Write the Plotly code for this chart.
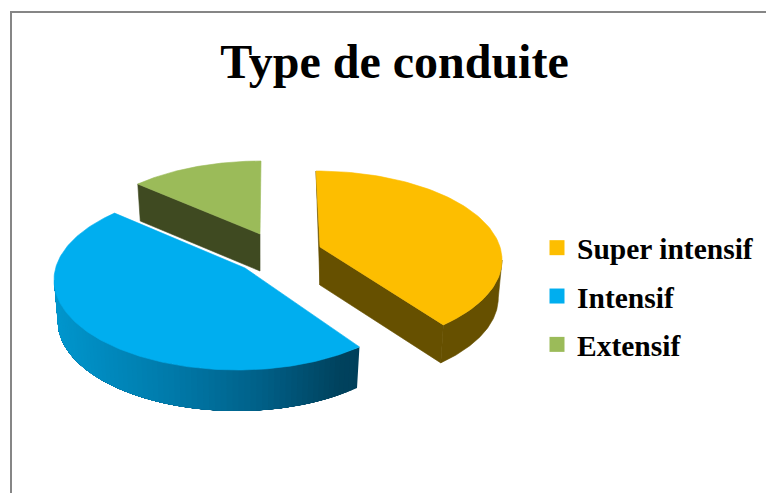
import numpy as np
import plotly.graph_objects as go

categories = ["Super intensif", "Intensif", "Extensif"]
values = [38, 50, 12]

TOP = ["#FDBE00", "#00AEEF", "#9BBB59"]
WALL = ["#665000", None, "#3F4A21"]

# per-slice projection in screen pixels: apex x, apex y, ellipse offsets, radii, depth, perspective twist
GEOM = [
    dict(ax=320, ay=247, ox=-4, oy=13, rx=186, ry=89, d=38, rot=0),
    dict(ax=245, ay=268, ox=-8, oy=12, rx=183, ry=90, d=41, rot=1.2),
    dict(ax=260, ay=234, ox=1, oy=12, rx=180, ry=85, d=37, rot=0),
]
SHRINK = 0.98


def point(g, deg, bottom=False):
    t = np.radians(deg)
    cx = g["ax"] + g["ox"]
    x = g["rx"] * np.cos(t)
    y = g["ay"] + g["oy"] + g["ry"] * np.sin(t)
    if bottom:
        return cx + SHRINK * x, y + g["d"]
    return cx + x, y


def apex(g, bottom=False):
    if bottom:
        cx = g["ax"] + g["ox"]
        return cx + SHRINK * (g["ax"] - cx), g["ay"] + g["d"]
    return g["ax"], g["ay"]


def poly(fig, pts, color, name, width=0.6):
    xs = [p[0] for p in pts] + [pts[0][0]]
    ys = [p[1] for p in pts] + [pts[0][1]]
    fig.add_trace(go.Scatter(x=xs, y=ys, mode="lines", fill="toself", fillcolor=color,
                             line=dict(color=color, width=width), showlegend=False,
                             hoverinfo="text", text=name))


def arc(g, a, b, bottom=False, n=90):
    return [point(g, d, bottom) for d in np.linspace(a, b, n)]


def blue_shade(x):
    stops_x = [54, 170, 260, 340, 362]
    gc = [150, 122, 96, 66, 64]
    b = [205, 170, 136, 94, 90]
    return "rgb(0,{:.0f},{:.0f})".format(np.interp(x, stops_x, gc), np.interp(x, stops_x, b))


total = sum(values)
angles = [-90.0]
for v in values:
    angles.append(angles[-1] + 360.0 * v / total)

fig = go.Figure()

# Extensif
g = GEOM[2]
a, b = angles[2] + g["rot"], angles[3] + g["rot"]
poly(fig, [point(g, a), apex(g), apex(g, True), point(g, a, True)], WALL[2], categories[2])
poly(fig, [apex(g)] + arc(g, a, b), TOP[2], categories[2])

# Super intensif
g = GEOM[0]
a, b = angles[0] + g["rot"], angles[1] + g["rot"]
poly(fig, [point(g, a), apex(g), apex(g, True)], WALL[0], categories[0])
poly(fig, [apex(g), point(g, b), point(g, b, True), apex(g, True)], WALL[0], categories[0])
poly(fig, arc(g, 0, b) + arc(g, b, 0, True), WALL[0], categories[0])
poly(fig, [apex(g)] + arc(g, a, b), TOP[0], categories[0])

# Intensif: each facet overlaps everything to its left so no seams show
g = GEOM[1]
a, b = angles[1] + g["rot"], angles[2] + g["rot"]
edges = np.linspace(a, 180, 71)
for e0, e1 in zip(edges[:-1], edges[1:]):
    mx = point(g, (e0 + e1) / 2)[0]
    poly(fig, arc(g, e0, 180, n=60) + arc(g, 180, e0, True, n=60), blue_shade(mx), categories[1], width=0)
poly(fig, [apex(g)] + arc(g, a, b, n=180), TOP[1], categories[1])

# legend entries
for c, col in zip(categories, TOP):
    fig.add_trace(go.Scatter(x=[None], y=[None], mode="markers", name=c, legendgroup=c,
                             marker=dict(symbol="square", size=15, color=col)))

fig.update_layout(
    width=766, height=493, margin=dict(l=0, r=0, t=0, b=0),
    paper_bgcolor="white", plot_bgcolor="white",
    xaxis=dict(range=[0, 766], visible=False, fixedrange=True),
    yaxis=dict(range=[493, 0], visible=False, fixedrange=True),
    title=dict(text="<b>Type de conduite</b>", x=394.5 / 766, xanchor="center", y=1 - 61 / 493, yanchor="middle",
               font=dict(family="Liberation Serif", size=48, color="black")),
    legend=dict(x=537 / 766, y=1 - 222 / 493, xanchor="left", yanchor="top", yref="paper",
                bgcolor="rgba(0,0,0,0)", tracegroupgap=7,
                font=dict(family="Liberation Serif", size=29.5, color="black", weight="bold")),
    shapes=[
        dict(type="line", xref="x", yref="y", x0=11, x1=11, y0=12, y1=493, line=dict(color="#868686", width=2)),
        dict(type="line", xref="x", yref="y", x0=10, x1=766, y0=12, y1=12, line=dict(color="#868686", width=2)),
    ],
)

fig.write_html("out.html", post_script="document.body.style.margin='0';document.documentElement.style.overflow='hidden';",
               config={"displayModeBar": False})
